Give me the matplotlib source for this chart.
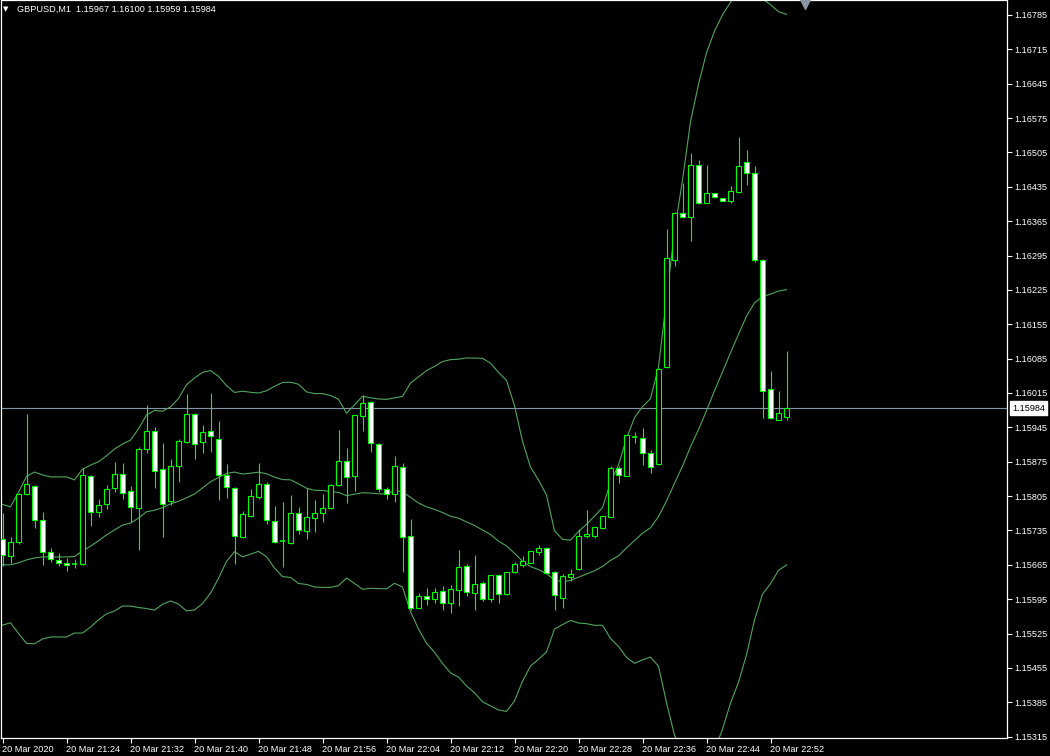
import numpy as np
import pandas as pd
import matplotlib
matplotlib.use("Agg")
import matplotlib.pyplot as plt
from matplotlib.patches import Rectangle

# ---- data (GBPUSD M1, 20 Mar 2020 21:16 .. 22:54) ----
opens = [1.15718, 1.15682, 1.15711, 1.15810, 1.15826, 1.15757, 1.15691, 1.15675, 1.15669, 1.15666,
         1.15666, 1.15846, 1.15773, 1.15789, 1.15822, 1.15851, 1.15815, 1.15780, 1.15900, 1.15938,
         1.15860, 1.15794, 1.15867, 1.15916, 1.15972, 1.15915, 1.15938, 1.15921, 1.15848, 1.15821,
         1.15722, 1.15765, 1.15804, 1.15829, 1.15755, 1.15712, 1.15710, 1.15771, 1.15733, 1.15760,
         1.15770, 1.15780, 1.15827, 1.15876, 1.15845, 1.15969, 1.15997, 1.15911, 1.15820, 1.15810,
         1.15865, 1.15723, 1.15578, 1.15601, 1.15595, 1.15611, 1.15587, 1.15614, 1.15662, 1.15608,
         1.15628, 1.15596, 1.15644, 1.15605, 1.15651, 1.15665, 1.15669, 1.15692, 1.15699, 1.15650,
         1.15598, 1.15641, 1.15656, 1.15723, 1.15724, 1.15740, 1.15763, 1.15862, 1.15846, 1.15926,
         1.15923, 1.15893, 1.15870, 1.16067, 1.16285, 1.16381, 1.16374, 1.16479, 1.16403, 1.16422,
         1.16412, 1.16407, 1.16425, 1.16485, 1.16463, 1.16285, 1.16023, 1.15961, 1.15967]
highs = [1.15771, 1.15722, 1.15812, 1.15972, 1.15828, 1.15772, 1.15699, 1.15689, 1.15678, 1.15677,
         1.15862, 1.15848, 1.15800, 1.15828, 1.15874, 1.15873, 1.15826, 1.15905, 1.15991, 1.15945,
         1.15913, 1.15881, 1.15921, 1.16012, 1.15974, 1.15950, 1.16014, 1.15958, 1.15870, 1.15824,
         1.15775, 1.15819, 1.15872, 1.15833, 1.15785, 1.15792, 1.15807, 1.15783, 1.15821, 1.15797,
         1.15809, 1.15829, 1.15940, 1.15902, 1.15971, 1.16011, 1.15999, 1.15913, 1.15824, 1.15886,
         1.15872, 1.15758, 1.15608, 1.15617, 1.15617, 1.15622, 1.15624, 1.15695, 1.15666, 1.15685,
         1.15631, 1.15645, 1.15646, 1.15651, 1.15670, 1.15683, 1.15694, 1.15705, 1.15701, 1.15652,
         1.15646, 1.15656, 1.15737, 1.15777, 1.15742, 1.15765, 1.15867, 1.15867, 1.15930, 1.15936,
         1.15943, 1.15899, 1.16066, 1.16349, 1.16383, 1.16442, 1.16503, 1.16490, 1.16479, 1.16423,
         1.16413, 1.16437, 1.16537, 1.16510, 1.16477, 1.16287, 1.16060, 1.16020, 1.16100]
lows = [1.15663, 1.15669, 1.15707, 1.15807, 1.15740, 1.15665, 1.15671, 1.15663, 1.15653, 1.15658,
        1.15664, 1.15745, 1.15763, 1.15779, 1.15813, 1.15800, 1.15753, 1.15695, 1.15892, 1.15821,
        1.15721, 1.15787, 1.15833, 1.15913, 1.15880, 1.15892, 1.15895, 1.15798, 1.15802, 1.15667,
        1.15719, 1.15763, 1.15800, 1.15748, 1.15709, 1.15660, 1.15707, 1.15727, 1.15717, 1.15732,
        1.15753, 1.15779, 1.15826, 1.15790, 1.15815, 1.15938, 1.15895, 1.15814, 1.15799, 1.15792,
        1.15651, 1.15573, 1.15576, 1.15583, 1.15588, 1.15573, 1.15566, 1.15582, 1.15602, 1.15573,
        1.15591, 1.15589, 1.15588, 1.15604, 1.15648, 1.15661, 1.15668, 1.15685, 1.15648, 1.15572,
        1.15577, 1.15632, 1.15654, 1.15719, 1.15720, 1.15737, 1.15762, 1.15832, 1.15845, 1.15914,
        1.15868, 1.15853, 1.15868, 1.16065, 1.16274, 1.16371, 1.16325, 1.16400, 1.16402, 1.16412,
        1.16406, 1.16403, 1.16422, 1.16439, 1.16282, 1.15965, 1.15963, 1.15959, 1.15959]
closes = [1.15685, 1.15712, 1.15810, 1.15829, 1.15756, 1.15691, 1.15676, 1.15668, 1.15664, 1.15666,
          1.15848, 1.15772, 1.15787, 1.15819, 1.15851, 1.15812, 1.15782, 1.15900, 1.15938, 1.15856,
          1.15788, 1.15867, 1.15917, 1.15972, 1.15911, 1.15936, 1.15927, 1.15848, 1.15823, 1.15724,
          1.15769, 1.15805, 1.15829, 1.15756, 1.15712, 1.15713, 1.15771, 1.15736, 1.15762, 1.15770,
          1.15780, 1.15828, 1.15876, 1.15843, 1.15970, 1.15994, 1.15913, 1.15820, 1.15810, 1.15866,
          1.15722, 1.15578, 1.15601, 1.15595, 1.15610, 1.15587, 1.15615, 1.15661, 1.15609, 1.15625,
          1.15595, 1.15644, 1.15606, 1.15650, 1.15666, 1.15673, 1.15693, 1.15699, 1.15649, 1.15604,
          1.15642, 1.15646, 1.15724, 1.15728, 1.15741, 1.15764, 1.15862, 1.15848, 1.15929, 1.15926,
          1.15892, 1.15865, 1.16063, 1.16289, 1.16382, 1.16374, 1.16479, 1.16403, 1.16422, 1.16415,
          1.16407, 1.16426, 1.16477, 1.16463, 1.16285, 1.16020, 1.15964, 1.15974, 1.15984]

# Bollinger band values for the first 19 bars (history before the window is not visible)
bb_upper_early = [1.15788, 1.15783, 1.15813, 1.15845, 1.15854, 1.15848, 1.15844, 1.15844, 1.15844, 1.15838,
                  1.15860, 1.15868, 1.15875, 1.15887, 1.15901, 1.15911, 1.15919, 1.15942, 1.15970]
bb_middle_early = [1.15665, 1.15665, 1.15669, 1.15675, 1.15679, 1.15681, 1.15681, 1.15681, 1.15681, 1.15682,
                   1.15693, 1.15703, 1.15714, 1.15726, 1.15736, 1.15746, 1.15750, 1.15760, 1.15773]
bb_lower_early = [1.15542, 1.15547, 1.15525, 1.15505, 1.15504, 1.15514, 1.15518, 1.15518, 1.15518, 1.15526,
                  1.15526, 1.15538, 1.15553, 1.15565, 1.15571, 1.15581, 1.15581, 1.15578, 1.15576]
bb_period = 20
bb_dev = 2.5

time_labels = ["20 Mar 2020", "20 Mar 21:24", "20 Mar 21:32", "20 Mar 21:40", "20 Mar 21:48",
               "20 Mar 21:56", "20 Mar 22:04", "20 Mar 22:12", "20 Mar 22:20", "20 Mar 22:28",
               "20 Mar 22:36", "20 Mar 22:44", "20 Mar 22:52"]
price_ticks = [1.16785, 1.16715, 1.16645, 1.16575, 1.16505, 1.16435, 1.16365, 1.16295, 1.16225,
               1.16155, 1.16085, 1.16015, 1.15945, 1.15875, 1.15805, 1.15735, 1.15665, 1.15595,
               1.15525, 1.15455, 1.15385, 1.15315]
symbol_title = "GBPUSD,M1  1.15967 1.16100 1.15959 1.15984"
last_price = 1.15984

# ---- styling ----
W, H = 1050, 756
BG = "black"
LIME = "#00ff00"
BAND = "#4fa65c"
FG = "white"
FONT = "Liberation Sans"
FS = 6.6

fig = plt.figure(figsize=(W / 100, H / 100), dpi=100, facecolor=BG)
ax_left, ax_right_px, ax_top_px, ax_bot_px = 0.5, 1007, 0.5, 738
ax = fig.add_axes([ax_left / W, (H - ax_bot_px) / H, (ax_right_px - ax_left) / W,
                   (ax_bot_px - ax_top_px) / H], facecolor=BG)

n = len(closes)
x = np.arange(n)

# Bollinger bands
cs = pd.Series(closes)
mid = cs.rolling(bb_period).mean()
sd = cs.rolling(bb_period).std(ddof=0)
upper = (mid + bb_dev * sd).to_numpy()
lower = (mid - bb_dev * sd).to_numpy()
mid = mid.to_numpy()
k = len(bb_middle_early)
upper[:k] = bb_upper_early
mid[:k] = bb_middle_early
lower[:k] = bb_lower_early
for band in (upper, mid, lower):
    ax.plot(x, band, color=BAND, lw=0.8, zorder=2)

# current price line
ax.axhline(last_price, color="#8494a6", lw=0.8, zorder=1)

# candles
px = 0.72  # one pixel in points
body_w = 0.55
for i in range(n):
    o, h, l, c = opens[i], highs[i], lows[i], closes[i]
    ax.vlines(i, l, h, color=LIME, lw=px * 1.1, zorder=3)
    if abs(c - o) < 1.5e-5:
        ax.hlines((o + c) / 2, i - body_w / 2, i + body_w / 2, color=LIME, lw=px * 1.6, zorder=4)
    else:
        fc = "black" if c > o else "white"
        ax.add_patch(Rectangle((i - body_w / 2, min(o, c)), body_w, abs(c - o),
                               facecolor=fc, edgecolor=LIME, lw=px * 1.1, zorder=4))

# axes limits (8 px per bar, 49.09 px per 0.001)
ax.set_xlim(-0.25, -0.25 + (ax_right_px - ax_left) / 8.0)
ppu = 49090.0
ax.set_ylim(1.16785 - (ax_bot_px - 15) / ppu, 1.16785 + (15 - ax_top_px) / ppu)

for s in ax.spines.values():
    s.set_color(FG)
    s.set_linewidth(0.9)

ax.yaxis.tick_right()
ax.set_yticks(price_ticks)
ax.set_yticklabels([f"{p:.5f}" for p in price_ticks])
ax.tick_params(axis="y", colors=FG, labelcolor=FG, length=3.5, width=0.8, pad=2,
               labelsize=FS, direction="out")
ax.set_xticks(np.arange(0, n, 8))
ax.set_xticklabels(time_labels)
ax.tick_params(axis="x", colors=FG, labelcolor=FG, length=3.5, width=0.8, pad=1.5,
               labelsize=FS, direction="out")
for lab in ax.get_xticklabels():
    lab.set_horizontalalignment("left")
for lab in ax.get_xticklabels() + ax.get_yticklabels():
    lab.set_fontfamily(FONT)

# last price tag
ax.annotate(f"{last_price:.5f}", xy=(1, last_price), xycoords=("axes fraction", "data"),
            xytext=(3.5, 0), textcoords="offset points", va="center", ha="left",
            fontsize=FS, family=FONT, color="black", zorder=10, annotation_clip=False,
            bbox=dict(boxstyle="square,pad=0.25", fc="white", ec="white"))

# shift marker
ax.plot([(805 - ax_left) / 8.0 - 0.25], [1.16785 + (15 - 4) / ppu], marker="v",
        color="#8a96a6", markersize=7, clip_on=False, zorder=6)

# header
fig.text(6 / W, 1 - 9 / H, "\u25bc", color=FG, fontsize=5, va="center", ha="center", family="DejaVu Sans")
fig.text(17 / W, 1 - 9 / H, symbol_title, color=FG, fontsize=FS, va="center", ha="left", family=FONT)

fig.savefig("out.png", dpi=100, facecolor=BG)
